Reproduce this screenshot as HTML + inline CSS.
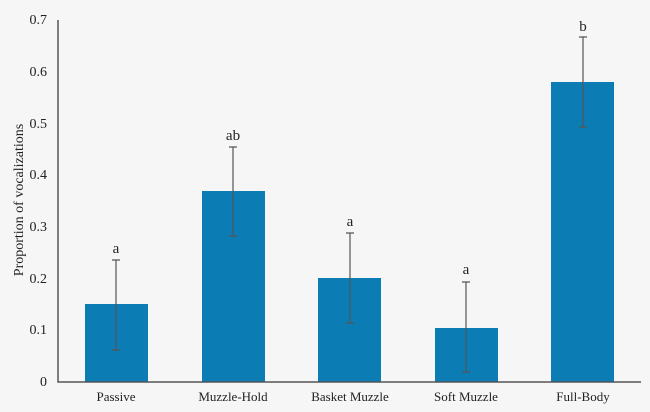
<!DOCTYPE html>
<html><head><style>body{margin:0;background:#f6f6f6}</style></head><body>
<svg width="650" height="407" xmlns="http://www.w3.org/2000/svg" font-family="Liberation Serif, serif" fill="#222">
<rect width="650" height="407" fill="#f6f6f6"/>
<g font-size="14" text-anchor="end">
<text x="47" y="386">0</text><text x="47" y="334">0.1</text><text x="47" y="283">0.2</text><text x="47" y="231">0.3</text><text x="47" y="179">0.4</text><text x="47" y="128">0.5</text><text x="47" y="76">0.6</text><text x="47" y="24">0.7</text>
</g>
<text transform="translate(23,200) rotate(-90)" font-size="14" text-anchor="middle">Proportion of vocalizations</text>
<g fill="#0b7db4">
<rect x="85" y="304" width="63" height="78"/>
<rect x="202" y="191" width="63" height="191"/>
<rect x="318" y="278" width="63" height="104"/>
<rect x="435" y="328" width="63" height="54"/>
<rect x="551" y="82" width="63" height="300"/>
</g>
<g stroke="#555" stroke-width="1.2">
<path d="M116 260V350M112 260H120M112 350H120"/>
<path d="M233 147V236M229 147H237M229 236H237"/>
<path d="M350 233V323M346 233H354M346 323H354"/>
<path d="M466 282V372M462 282H470M462 372H470"/>
<path d="M583 37V127M579 37H587M579 127H587"/>
</g>
<path d="M58 20V382H641" stroke="#555" stroke-width="1.5" fill="none"/>
<g font-size="15" text-anchor="middle">
<text x="116" y="253">a</text><text x="233" y="140">ab</text><text x="350" y="226">a</text><text x="466" y="274">a</text><text x="583" y="31">b</text>
</g>
<g font-size="13" text-anchor="middle">
<text x="116" y="401">Passive</text><text x="233" y="401">Muzzle-Hold</text><text x="350" y="401">Basket Muzzle</text><text x="466" y="401">Soft Muzzle</text><text x="583" y="401">Full-Body</text>
</g>
</svg>
</body></html>
